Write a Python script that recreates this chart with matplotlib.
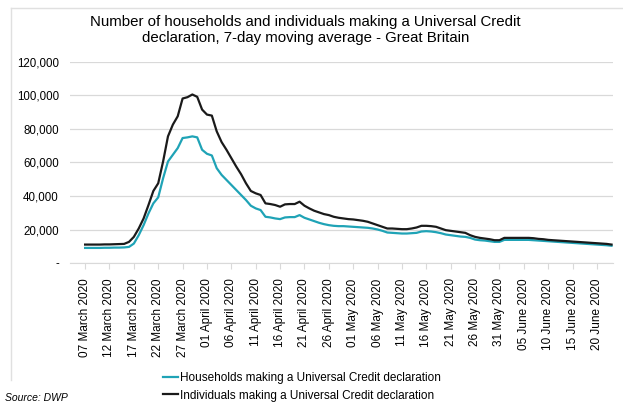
import matplotlib.pyplot as plt
import matplotlib.dates as mdates
import numpy as np
import pandas as pd
from matplotlib.lines import Line2D
from matplotlib.ticker import FuncFormatter

plt.rcParams['font.family'] = ['Liberation Sans', 'DejaVu Sans']

# daily 7-day moving averages, 07 March 2020 - 23 June 2020
dates = pd.date_range('2020-03-07', '2020-06-23', freq='D')

households = [
    9000, 9000, 9000, 9000, 9100, 9100, 9200, 9200, 9300, 9600,   # 07-16 Mar
    11600, 16600, 22600, 29600, 35600, 39200, 50600, 60600, 64600, 68600,  # 17-26 Mar
    74600, 75000, 75600, 75000, 67600, 65200, 64200, 56600, 52600, 49600,  # 27 Mar-05 Apr
    46600, 43600, 40600, 37600, 34200, 32600, 31600, 27600, 27200, 26600,  # 06-15 Apr
    26200, 27200, 27400, 27400, 28600, 27000, 26000, 25000, 24000, 23200,  # 16-25 Apr
    22600, 22200, 22000, 22000, 21800, 21600, 21400, 21200, 21000, 20600,  # 26 Apr-05 May
    20000, 19200, 18200, 18000, 17800, 17600, 17600, 17800, 18000, 18800,  # 06-15 May
    19000, 18800, 18400, 17800, 17000, 16600, 16200, 15800, 15600, 15000,  # 16-25 May
    14000, 13600, 13400, 13000, 12600, 12600, 13800, 13800, 13800, 13800,  # 26 May-04 Jun
    13800, 13800, 13600, 13400, 13200, 13000, 12800, 12600, 12400, 12200,  # 05-14 Jun
    12000, 11800, 11600, 11400, 11200, 11000, 10800, 10600, 10300,         # 15-23 Jun
]

individuals = [
    11000, 11000, 11000, 11000, 11100, 11100, 11200, 11300, 11400, 12600,  # 07-16 Mar
    15600, 20600, 26600, 34600, 43000, 47600, 60600, 75600, 82600, 87600,  # 17-26 Mar
    98200, 99000, 100600, 99200, 91600, 88600, 88000, 78600, 72200, 67600,  # 27 Mar-05 Apr
    62600, 57600, 53000, 47600, 43000, 41600, 40600, 35600, 35200, 34600,  # 06-15 Apr
    33600, 35000, 35200, 35200, 36600, 34200, 32600, 31200, 30200, 29200,  # 16-25 Apr
    28600, 27600, 27000, 26600, 26200, 26000, 25600, 25200, 24600, 23600,  # 26 Apr-05 May
    22600, 21600, 20600, 20600, 20400, 20200, 20200, 20600, 21200, 22200,  # 06-15 May
    22200, 22000, 21600, 20600, 19600, 19200, 18800, 18400, 18000, 16600,  # 16-25 May
    15600, 15000, 14600, 14200, 13600, 13600, 15000, 15000, 15000, 15000,  # 26 May-04 Jun
    15000, 15000, 14800, 14400, 14200, 13800, 13600, 13400, 13200, 13000,  # 05-14 Jun
    12800, 12600, 12400, 12200, 12000, 11800, 11600, 11400, 11000,         # 15-23 Jun
]

labels = ['Households making a Universal Credit declaration',
          'Individuals making a Universal Credit declaration']
teal = '#1fa3b6'
black = '#1a1a1a'
grid_grey = '#d9d9d9'

fig = plt.figure(figsize=(6.23, 4.05), dpi=100)
ax = fig.add_axes([70 / 623, 1 - 263 / 405, 543 / 623, 201 / 405])

ax.plot(dates, households, color=teal, lw=1.6)
ax.plot(dates, individuals, color=black, lw=1.6)

ax.set_ylim(0, 120000)
ax.set_yticks(np.arange(0, 120001, 20000))
ax.yaxis.set_major_formatter(FuncFormatter(lambda v, p: '-' if v == 0 else f'{v:,.0f}'))
ax.set_xlim(dates[0] - pd.Timedelta(days=3.1), dates[-1] + pd.Timedelta(days=0.3))
ax.set_xticks(pd.date_range('2020-03-07', '2020-06-20', freq='5D'))
ax.xaxis.set_major_formatter(mdates.DateFormatter('%d %B %Y'))

ax.grid(axis='y', color=grid_grey, lw=0.9)
ax.set_axisbelow(True)
for s in ['top', 'right', 'left']:
    ax.spines[s].set_visible(False)
ax.spines['bottom'].set_color(grid_grey)
ax.tick_params(axis='y', length=0, pad=8, labelsize=8.3, labelcolor='#000000')
ax.tick_params(axis='x', length=4, color=grid_grey, pad=7, labelsize=8.5,
               labelrotation=90)

fig.text(0.49, 0.925, 'Number of households and individuals making a Universal Credit\n'
         'declaration, 7-day moving average - Great Britain',
         ha='center', va='center', fontsize=10.8, linespacing=1.2)

handles = [Line2D([], [], color=teal, lw=1.6), Line2D([], [], color=black, lw=1.6)]
fig.legend(handles, labels, loc='upper left', bbox_to_anchor=(158 / 623, 1 - 367 / 405),
           frameon=False, fontsize=8.5, handlelength=1.3, handletextpad=0.15,
           labelspacing=0.5, borderaxespad=0)

fig.text(5 / 623, 1 - 398 / 405, 'Source: DWP', style='italic', fontsize=7.5, va='center')

# thin frame round the chart area
fig.add_artist(Line2D([11 / 623, 1], [1 - 8 / 405] * 2, color='#e0e0e0', lw=1))
fig.add_artist(Line2D([11 / 623] * 2, [1 - 8 / 405, 1 - 380 / 405], color='#e0e0e0', lw=1))

fig.savefig('out.png', dpi=100)
